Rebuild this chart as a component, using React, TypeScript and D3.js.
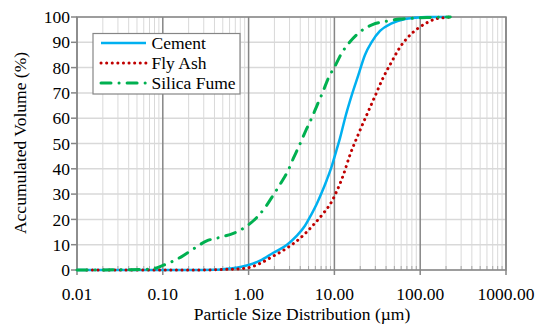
import * as d3 from 'd3';
import React from 'react';

// particle size (µm) / accumulated volume (%)
const cementSize = [0.01, 0.2, 0.4, 0.6, 0.8, 1.0, 1.36, 1.94, 2.78, 3.63, 4.54, 5.3, 6.2, 7.2, 8.13, 9.3, 10.5, 11.6, 13.3, 15.9, 19, 22.7, 27.3, 34, 46.5, 66.5, 87, 120, 200];
const cementVol = [0, 0, 0.1, 0.6, 1.2, 2.0, 3.7, 6.8, 9.9, 13.5, 17.5, 21.5, 26, 31, 35.5, 41, 47, 52, 60, 69, 77, 85, 90.2, 94.5, 97.5, 99.2, 99.7, 100, 100];

const flyAshSize = [0.013, 0.3, 0.6, 0.8, 1.0, 1.36, 1.94, 2.78, 3.97, 5.68, 7.43, 9.29, 10.6, 12.7, 15.2, 19.2, 23.8, 30, 37, 46, 58, 73, 95, 124, 150, 200, 224];
const flyAshVol = [0, 0, 0.3, 0.5, 0.9, 2.6, 5.5, 8.6, 12.5, 17.8, 22.4, 27, 31, 37.5, 45.5, 54, 61.3, 69, 76, 82, 88, 92.2, 95.6, 98, 99.2, 99.8, 100];

const silicaSize = [0.01, 0.06, 0.08, 0.1, 0.166, 0.227, 0.325, 0.465, 0.664, 0.91, 1.24, 1.55, 1.94, 2.43, 2.9, 3.32, 3.97, 4.67, 5.43, 6.3, 7.3, 8.49, 10.2, 12.2, 15.2, 19.7, 27.8, 40, 58, 83, 120, 224];
const silicaVol = [0, 0.2, 0.6, 1.8, 5.3, 8.3, 11.5, 12.9, 14.5, 16.9, 20.7, 24.6, 29.6, 34.9, 39.5, 44.1, 49.8, 55.3, 60, 65.2, 70.2, 75.8, 80.7, 85.8, 90.2, 94, 97, 98.3, 99.2, 99.5, 99.8, 100];

const xTicks = [0.01, 0.1, 1, 10, 100, 1000];
const xTickLabels = ['0.01', '0.10', '1.00', '10.00', '100.00', '1000.00'];
const yTicks = [0, 10, 20, 30, 40, 50, 60, 70, 80, 90, 100];

const seriesNames = ['Cement', 'Fly Ash', 'Silica Fume'];

const txt = { fontFamily: "'Liberation Serif', 'Times New Roman', serif", fontSize: '17.5px', fill: '#000' };

export default function App() {
  const width = 537;
  const height = 324;
  const left = 77, right = 506, top = 17, bottom = 270;

  const x = d3.scaleLog().domain([0.01, 1000]).range([left, right]);
  const y = d3.scaleLinear().domain([0, 100]).range([bottom, top]);

  const minor: number[] = [];
  for (let e = -2; e < 3; e++) {
    for (let m = 2; m <= 9; m++) minor.push(m * Math.pow(10, e));
  }

  const line = d3.line<[number, number]>()
    .x(d => x(d[0]))
    .y(d => y(d[1]))
    .curve(d3.curveMonotoneX);

  const zip = (a: number[], b: number[]) => a.map((v, i) => [v, b[i]] as [number, number]);

  const series = [
    { name: seriesNames[0], data: zip(cementSize, cementVol), color: '#00B0F0', w: 2.5, dash: undefined as string | undefined, cap: 'butt' },
    { name: seriesNames[1], data: zip(flyAshSize, flyAshVol), color: '#C00000', w: 3, dash: '0.1 5.5', cap: 'round' },
    { name: seriesNames[2], data: zip(silicaSize, silicaVol), color: '#00B050', w: 3, dash: '10 8 0.1 8', cap: 'round' },
  ];

  return (
    <svg width={width} height={height} style={{ position: 'absolute', left: 0, top: 0, background: '#fff' }}>
      {/* horizontal grid */}
      {yTicks.map(t => (
        <line key={'h' + t} x1={left} x2={right} y1={y(t)} y2={y(t)} stroke="#D9D9D9" strokeWidth={1.5} />
      ))}
      {/* minor vertical grid */}
      {minor.map(t => (
        <line key={'m' + t} x1={x(t)} x2={x(t)} y1={top} y2={bottom} stroke="#D9D9D9" strokeWidth={1} />
      ))}
      {/* minor ticks inside bottom */}
      {minor.map(t => (
        <line key={'mt' + t} x1={x(t)} x2={x(t)} y1={bottom - 4} y2={bottom} stroke="#A6A6A6" strokeWidth={1} />
      ))}
      {/* major vertical grid */}
      {xTicks.map(t => (
        <line key={'v' + t} x1={x(t)} x2={x(t)} y1={top} y2={bottom + 5} stroke="#868686" strokeWidth={1.5} />
      ))}
      {/* y ticks */}
      {yTicks.map(t => (
        <line key={'yt' + t} x1={left - 6} x2={left} y1={y(t)} y2={y(t)} stroke="#868686" strokeWidth={1.5} />
      ))}
      <rect x={left} y={top} width={right - left} height={bottom - top} fill="none" stroke="#868686" strokeWidth={1.5} />

      {series.map(s => (
        <path key={s.name} d={line(s.data) || ''} fill="none" stroke={s.color} strokeWidth={s.w}
          strokeDasharray={s.dash} strokeLinecap={s.cap as any} />
      ))}

      {/* tick labels */}
      {yTicks.map(t => (
        <text key={'yl' + t} x={70} y={y(t)} dy="0.35em" textAnchor="end" style={txt}>{t}</text>
      ))}
      {xTicks.map((t, i) => (
        <text key={'xl' + t} x={x(t)} y={299.5} textAnchor="middle" style={txt}>{xTickLabels[i]}</text>
      ))}
      <text x={302} y={320} textAnchor="middle" style={txt}>Particle Size Distribution (µm)</text>
      <text transform="translate(26,143) rotate(-90)" textAnchor="middle" style={txt}>Accumulated Volume (%)</text>

      {/* legend */}
      <rect x={93} y={33.5} width={147} height={60.5} fill="#fff" stroke="#868686" strokeWidth={1.2} />
      {series.map((s, i) => (
        <g key={'lg' + s.name}>
          <line x1={101} x2={146} y1={43 + i * 20} y2={43 + i * 20} stroke={s.color} strokeWidth={s.w}
            strokeDasharray={s.dash} strokeLinecap={s.cap as any} />
          <text x={151.5} y={43 + i * 20} dy="0.35em" style={txt}>{s.name}</text>
        </g>
      ))}
    </svg>
  );
}
